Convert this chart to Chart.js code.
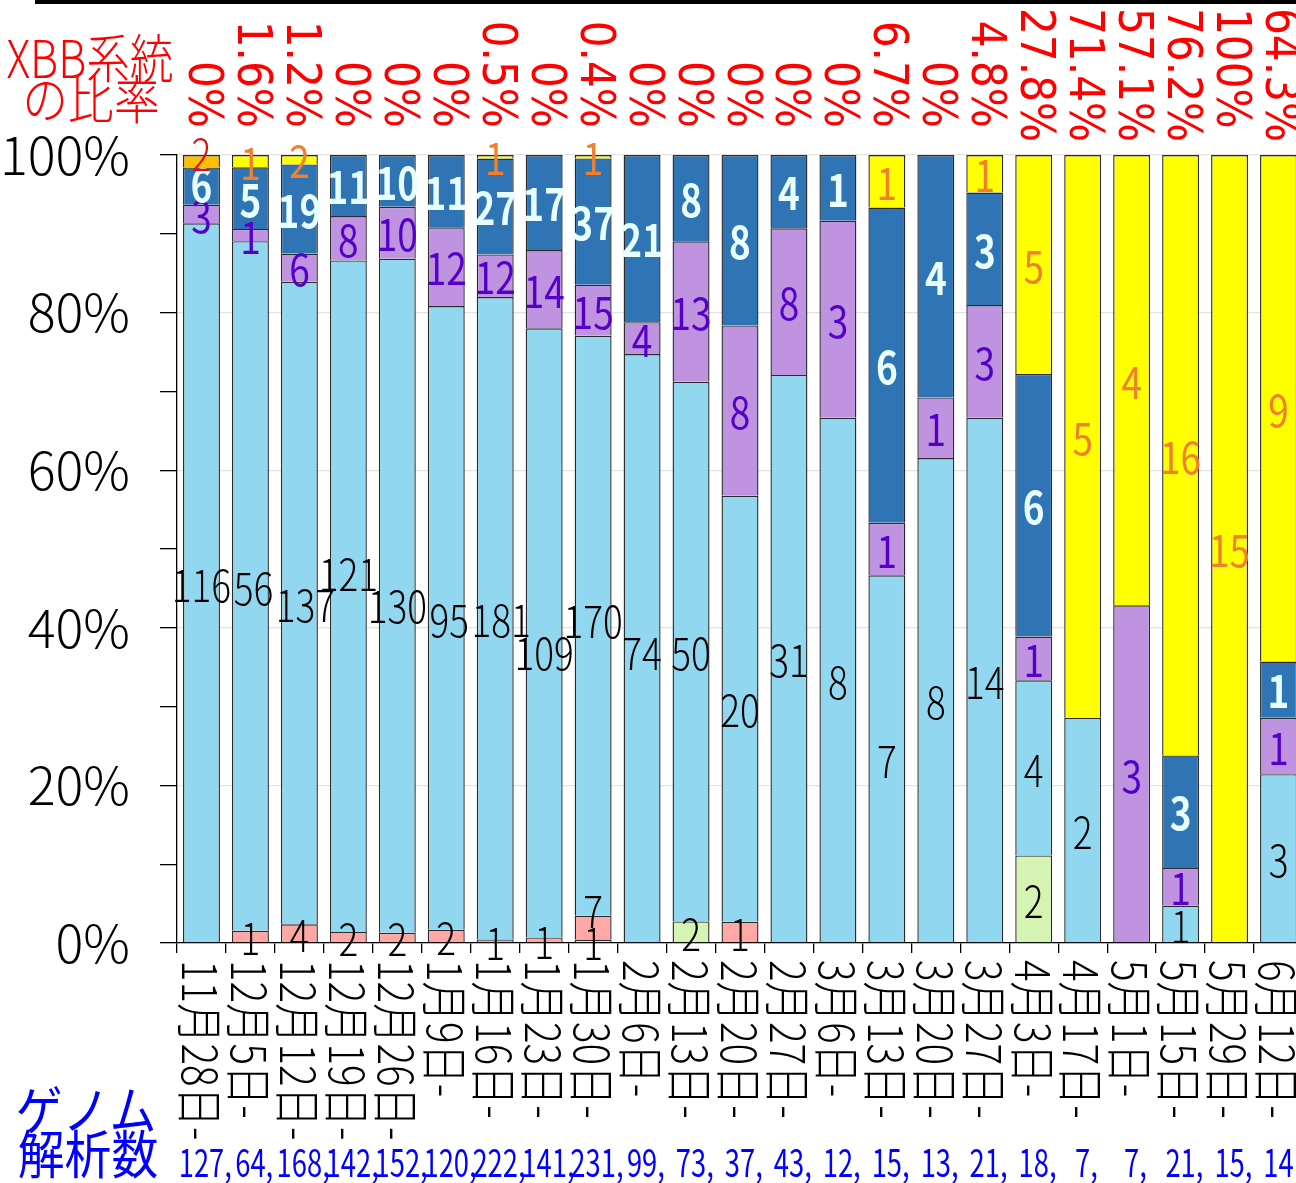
<!DOCTYPE html>
<html lang="ja">
<head>
<meta charset="utf-8">
<title>XBB系統の比率</title>
<script src="https://cdn.jsdelivr.net/npm/chart.js@4.4.1/dist/chart.umd.min.js"></script>
<style>
    html, body { margin: 0; padding: 0; background: #fff; overflow: hidden; }
    #wrap { position: relative; width: 1310px; height: 1183px; }
    #topRule { position: absolute; left: 35px; top: 0; width: 1275px; height: 4px; background: #000; }
    canvas { position: absolute; left: 0; top: 0; }
</style>
</head>
<body>
<div id="wrap">
    <canvas id="xbbChart" width="1310" height="1183"></canvas>
    <div id="topRule"></div>
</div>
<script>
const weekLabels = ["11月28日-", "12月5日-", "12月12日-", "12月19日-", "12月26日-", "1月9日-", "1月16日-",
    "1月23日-", "1月30日-", "2月6日-", "2月13日-", "2月20日-", "2月27日-", "3月6日-", "3月13日-",
    "3月20日-", "3月27日-", "4月3日-", "4月17日-", "5月1日-", "5月15日-", "5月29日-", "6月12日-"];
const genomeCounts = [127, 64, 168, 142, 152, 120, 222, 141, 231, 99, 73, 37, 43, 12, 15, 13, 21, 18, 7, 7, 21, 15, 14];
const xbbRatioText = ["0%", "1.6%", "1.2%", "0%", "0%", "0%", "0.5%", "0%", "0.4%", "0%", "0%", "0%", "0%",
    "0%", "6.7%", "0%", "4.8%", "27.8%", "71.4%", "57.1%", "76.2%", "100%", "64.3%"];

// counts per week, stacked from the bottom up
const greenCounts  = [0, 0, 0, 0, 0, 0, 0, 0, 1, 0, 2, 0, 0, 0, 0, 0, 0, 2, 0, 0, 0, 0, 0];
const pinkCounts   = [0, 1, 4, 2, 2, 2, 1, 1, 7, 0, 0, 1, 0, 0, 0, 0, 0, 0, 0, 0, 0, 0, 0];
const cyanCounts   = [116, 56, 137, 121, 130, 95, 181, 109, 170, 74, 50, 20, 31, 8, 7, 8, 14, 4, 2, 0, 1, 0, 3];
const purpleCounts = [3, 1, 6, 8, 10, 12, 12, 14, 15, 4, 13, 8, 8, 3, 1, 1, 3, 1, 0, 3, 1, 0, 1];
const navyCounts   = [6, 5, 19, 11, 10, 11, 27, 17, 37, 21, 8, 8, 4, 1, 6, 4, 3, 6, 0, 0, 3, 0, 1];
const amberCounts  = [2, 0, 0, 0, 0, 0, 0, 0, 0, 0, 0, 0, 0, 0, 0, 0, 0, 0, 0, 0, 0, 0, 0];
const xbbCounts    = [0, 1, 2, 0, 0, 0, 1, 0, 1, 0, 0, 0, 0, 0, 1, 0, 1, 5, 5, 4, 16, 15, 9];

const yTickValues = [0, 20, 40, 60, 80, 100];

const JP_FONT = '"Noto Sans CJK JP", "Noto Sans", sans-serif';

function toPercent(counts) {
    return counts.map((c, i) => c > 0 ? c / genomeCounts[i] * 100 : null);
}

function makeSeries(counts, fill, labelColor, labelWeight) {
    return {
        data: toPercent(counts),
        counts: counts,
        backgroundColor: fill,
        borderColor: '#2b2b2b',
        borderWidth: 1.4,
        labelColor: labelColor,
        labelWeight: labelWeight
    };
}

const datasets = [
    makeSeries(greenCounts, '#d5f4b3', '#000', '300'),
    makeSeries(pinkCounts, '#ffa8a6', '#000', '300'),
    makeSeries(cyanCounts, '#90d7ef', '#000', '300'),
    makeSeries(purpleCounts, '#bf93e0', '#5500c8', 'normal'),
    makeSeries(navyCounts, '#2f74b4', '#e8ffff', 'bold'),
    makeSeries(amberCounts, '#ffc000', '#dd1111', '300'),
    makeSeries(xbbCounts, '#ffff00', '#ef8030', 'normal')
];

// candidate nudges for the segment labels, nearest first
const nudges = [];
for (let dy = -120; dy <= 120; dy += 3) {
    for (let dx = -27; dx <= 27; dx += 3) nudges.push([dx, dy]);
}
nudges.sort((a, b) => (4 * a[0] * a[0] + a[1] * a[1]) - (4 * b[0] * b[0] + b[1] * b[1]));

function condensed(ctx, text, x, y, sx) {
    ctx.save();
    ctx.translate(x, y);
    ctx.scale(sx, 1);
    ctx.fillText(text, 0, 0);
    ctx.restore();
}

// text turned 90deg clockwise, squeezed along its own direction
function turned(ctx, text, x, y, sx) {
    ctx.save();
    ctx.translate(x, y);
    ctx.rotate(Math.PI / 2);
    ctx.scale(sx, 1);
    ctx.fillText(text, 0, 0);
    ctx.restore();
}

const segmentLabels = {
    id: 'segmentLabels',
    afterDatasetsDraw(chart) {
        const ctx = chart.ctx;
        const size = 44, sx = 0.84;
        const placed = [];
        const hits = b => placed.some(p => b.x1 < p.x2 && b.x2 > p.x1 && b.y1 < p.y2 && b.y2 > p.y1);
        ctx.save();
        ctx.textAlign = 'center';
        ctx.textBaseline = 'middle';
        for (let i = 0; i < weekLabels.length; i++) {
            chart.data.datasets.forEach((ds, d) => {
                const n = ds.counts[i];
                if (!n) return;
                const bar = chart.getDatasetMeta(d).data[i];
                const cx = bar.x, cy = (bar.y + bar.base) / 2;
                const text = String(n);
                ctx.font = ds.labelWeight + ' ' + size + 'px ' + JP_FONT;
                const w = ctx.measureText(text).width * sx + 2;
                const h = size * 0.68;
                let pos = [cx, cy];
                for (const [dx, dy] of nudges) {
                    const box = { x1: cx + dx - w / 2, x2: cx + dx + w / 2, y1: cy + dy - h / 2, y2: cy + dy + h / 2 };
                    if (!hits(box)) { placed.push(box); pos = [cx + dx, cy + dy]; break; }
                }
                ctx.fillStyle = ds.labelColor;
                condensed(ctx, text, pos[0], pos[1] + 2, sx);
            });
        }
        ctx.restore();
    }
};

const outerTexts = {
    id: 'outerTexts',
    afterDraw(chart) {
        const ctx = chart.ctx;
        const xs = chart.scales.x;
        ctx.save();

        // week labels under the axis
        ctx.fillStyle = '#000';
        ctx.font = '300 48px ' + JP_FONT;
        ctx.textAlign = 'left';
        ctx.textBaseline = 'middle';
        weekLabels.forEach((lab, i) => turned(ctx, lab, xs.getPixelForValue(i) - 1, 960, 0.84));

        // XBB share above each bar
        ctx.fillStyle = '#ff0000';
        ctx.font = '48px "DejaVu Sans", sans-serif';
        xbbRatioText.forEach((t, i) => {
            const w = ctx.measureText(t).width * 0.88;
            const start = Math.max(8, 128 - w);
            turned(ctx, t, xs.getPixelForValue(i), start, 0.88);
        });

        ctx.textAlign = 'center';
        ctx.textBaseline = 'alphabetic';
        ctx.font = '300 52px ' + JP_FONT;
        condensed(ctx, 'XBB系統', 90, 78, 0.84);
        condensed(ctx, 'の比率', 91, 119, 0.88);

        ctx.fillStyle = '#0000ff';
        ctx.font = '400 52px ' + JP_FONT;
        condensed(ctx, 'ゲノム', 86, 1130, 0.9);
        condensed(ctx, '解析数', 88, 1174, 0.9);

        // genome counts per week
        ctx.font = '38px ' + JP_FONT;
        genomeCounts.forEach((n, i) => {
            const x = xs.getPixelForValue(i);
            const t = String(n);
            const w = ctx.measureText(t).width * 0.72;
            ctx.textAlign = 'center';
            condensed(ctx, t, x, 1177, 0.72);
            if (i < genomeCounts.length - 1) {
                ctx.textAlign = 'left';
                condensed(ctx, ',', x + w / 2, 1177, 0.72);
            }
        });
        ctx.restore();
    }
};

Chart.defaults.font.family = JP_FONT;

new Chart(document.getElementById('xbbChart').getContext('2d'), {
    type: 'bar',
    data: { labels: weekLabels, datasets: datasets },
    options: {
        responsive: false,
        animation: false,
        devicePixelRatio: 1,
        layout: { padding: { left: 0, top: 155, right: 7, bottom: 0 } },
        datasets: { bar: { categoryPercentage: 1, barPercentage: 0.755 } },
        plugins: { legend: { display: false }, tooltip: { enabled: false } },
        scales: {
            x: {
                stacked: true,
                ticks: { display: false },
                grid: { drawOnChartArea: false, drawTicks: true, tickLength: 10, tickColor: '#000', lineWidth: 1.3 },
                border: { color: '#000', width: 1.3 },
                afterFit(scale) { scale.height = 1183 - 943; }
            },
            y: {
                stacked: true,
                min: 0,
                max: 100,
                ticks: {
                    stepSize: 10,
                    padding: 30,
                    color: '#000',
                    font: { size: 52, weight: '300' },
                    callback: v => yTickValues.includes(v) ? v + '%' : ''
                },
                grid: {
                    color: c => yTickValues.includes(c.tick.value) ? '#e3e3e3' : 'rgba(0,0,0,0)',
                    tickColor: '#000',
                    tickLength: 17,
                    lineWidth: 1.3
                },
                border: { color: '#000', width: 1.3 },
                afterFit(scale) { scale.width = 177; }
            }
        }
    },
    plugins: [segmentLabels, outerTexts]
});
</script>
</body>
</html>
